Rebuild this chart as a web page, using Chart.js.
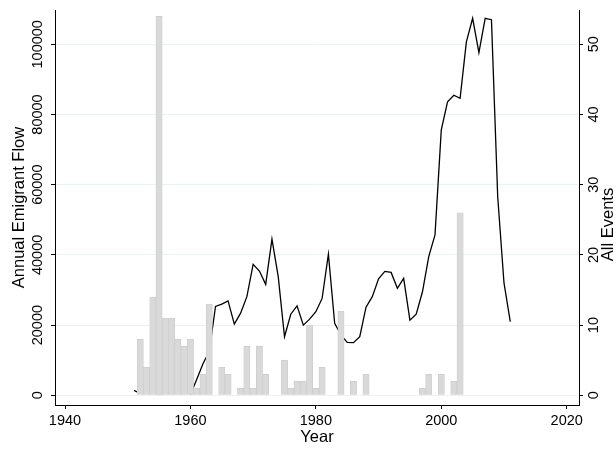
<!DOCTYPE html>
<html>
<head>
<meta charset="utf-8">
<script src="https://cdn.jsdelivr.net/npm/chart.js@4.4.1/dist/chart.umd.min.js"></script>
<style>
  html, body { margin: 0; padding: 0; background: #ffffff; }
  #wrap { width: 616px; height: 449px; }
</style>
</head>
<body>
<div id="wrap"><canvas id="chart" width="616" height="449"></canvas></div>
<script>
// Annual emigrant flow (left axis) by year
const flowYears = [
  1951, 1952, 1953, 1954, 1955, 1956, 1957, 1958, 1959, 1960,
  1961, 1962, 1963, 1964, 1965, 1966, 1967, 1968, 1969, 1970,
  1971, 1972, 1973, 1974, 1975, 1976, 1977, 1978, 1979, 1980,
  1981, 1982, 1983, 1984, 1985, 1986, 1987, 1988, 1989, 1990,
  1991, 1992, 1993, 1994, 1995, 1996, 1997, 1998, 1999, 2000,
  2001, 2002, 2003, 2004, 2005, 2006, 2007, 2008, 2009, 2010,
  2011
];
const flowValues = [
  1400, 500, null, null, null, null, null, null, null, 200,
  4500, 9000, 12500, 25300, 26000, 26900, 20300, 23400, 28100, 37300,
  35400, 31600, 44500, 33800, 16700, 23100, 25500, 20000, 21700, 23800,
  27600, 40200, 20500, 17200, 15100, 15000, 16700, 25100, 28100, 33200,
  35300, 35000, 30500, 33300, 21400, 23100, 29500, 39500, 45700, 75600,
  83600, 85500, 84600, 100700, 107400, 97600, 107400, 107000, 56500, 32000,
  21000
];

// Count of all events (right axis) by year
const eventYears = [
  1952, 1953, 1954, 1955, 1956, 1957, 1958, 1959, 1960, 1961,
  1962, 1963, 1965, 1966, 1968, 1969, 1970, 1971, 1972, 1975,
  1976, 1977, 1978, 1979, 1980, 1981, 1984, 1986, 1988, 1997,
  1998, 2000, 2002, 2003
];
const eventCounts = [
  8, 4, 14, 54, 11, 11, 8, 7, 8, 1,
  3, 13, 4, 3, 1, 7, 1, 7, 3, 5,
  1, 2, 2, 10, 1, 4, 12, 2, 3, 1,
  3, 3, 2, 26
];

// Axis tick labels
const xTicks = [1940, 1960, 1980, 2000, 2020];
const flowTicks = [0, 20000, 40000, 60000, 80000, 100000];
const eventTicks = [0, 10, 20, 30, 40, 50];

const FONT = '"Liberation Sans", Arial, Helvetica, sans-serif';
const TICK_SIZE = 14.5;
const TITLE_SIZE = 16.5;

const fixedTicks = (list) => (scale) => {
  scale.ticks = list.map(v => ({ value: v }));
};

// Tick labels and axis titles: y labels are set vertically, reading upward
const labelPlugin = {
  id: 'axisText',
  afterDraw(chart) {
    const ctx = chart.ctx;
    const { x, y, y1 } = chart.scales;
    ctx.save();
    ctx.fillStyle = '#000000';
    ctx.textAlign = 'center';
    ctx.textBaseline = 'middle';

    const vertical = (text, cx, cy) => {
      ctx.save();
      ctx.translate(cx, cy);
      ctx.rotate(-Math.PI / 2);
      ctx.fillText(text, 0, 0);
      ctx.restore();
    };

    ctx.font = TICK_SIZE + 'px ' + FONT;
    xTicks.forEach(v => ctx.fillText(String(v), x.getPixelForValue(v), 421));
    flowTicks.forEach(v => vertical(String(v), 37.5, y.getPixelForValue(v)));
    eventTicks.forEach(v => vertical(String(v), 594, y1.getPixelForValue(v)));

    ctx.font = TITLE_SIZE + 'px ' + FONT;
    const midY = (y.top + y.bottom) / 2;
    ctx.fillText('Year', (x.left + x.right) / 2, 437.5);
    vertical('Annual Emigrant Flow', 19.5, midY);
    vertical('All Events', 608.5, midY + 17);
    ctx.restore();
  }
};

new Chart(document.getElementById('chart'), {
  type: 'bar',
  data: {
    datasets: [
      {
        type: 'bar',
        label: 'All Events',
        data: eventYears.map((yr, i) => ({ x: yr, y: eventCounts[i] })),
        yAxisID: 'y1',
        backgroundColor: '#d9d9d9',
        borderColor: '#cdcdcd',
        borderWidth: 0.8,
        barPercentage: 1,
        categoryPercentage: 1,
        order: 0
      },
      {
        type: 'line',
        label: 'Annual Emigrant Flow',
        data: flowYears.map((yr, i) => ({ x: yr, y: flowValues[i] })),
        yAxisID: 'y',
        borderColor: '#000000',
        borderWidth: 1.3,
        pointRadius: 0,
        tension: 0,
        spanGaps: false,
        fill: false,
        order: 1
      }
    ]
  },
  options: {
    responsive: false,
    animation: false,
    devicePixelRatio: 1,
    layout: { padding: { left: 51, right: 33, top: 10, bottom: 40 } },
    plugins: {
      legend: { display: false },
      tooltip: { enabled: false }
    },
    scales: {
      x: {
        type: 'linear',
        offset: false,
        min: 1938.405,
        max: 2021.96,
        afterBuildTicks: fixedTicks(xTicks),
        ticks: { display: false },
        grid: {
          display: true,
          offset: false,
          drawOnChartArea: false,
          drawTicks: true,
          tickLength: 4,
          tickColor: '#000000'
        },
        border: { display: true, color: '#000000', width: 1 }
      },
      y: {
        type: 'linear',
        position: 'left',
        min: -2764,
        max: 109772,
        afterBuildTicks: fixedTicks(flowTicks),
        ticks: { display: false },
        grid: {
          display: true,
          color: '#eaf2f3',
          lineWidth: 1,
          drawOnChartArea: true,
          drawTicks: true,
          tickLength: 4,
          tickColor: '#000000'
        },
        border: { display: true, color: '#000000', width: 1 }
      },
      y1: {
        type: 'linear',
        position: 'right',
        min: -1.382,
        max: 54.886,
        afterBuildTicks: fixedTicks(eventTicks),
        ticks: { display: false },
        grid: {
          display: true,
          drawOnChartArea: false,
          drawTicks: true,
          tickLength: 4,
          tickColor: '#000000'
        },
        border: { display: true, color: '#000000', width: 1 }
      }
    }
  },
  plugins: [labelPlugin]
});
</script>
</body>
</html>
